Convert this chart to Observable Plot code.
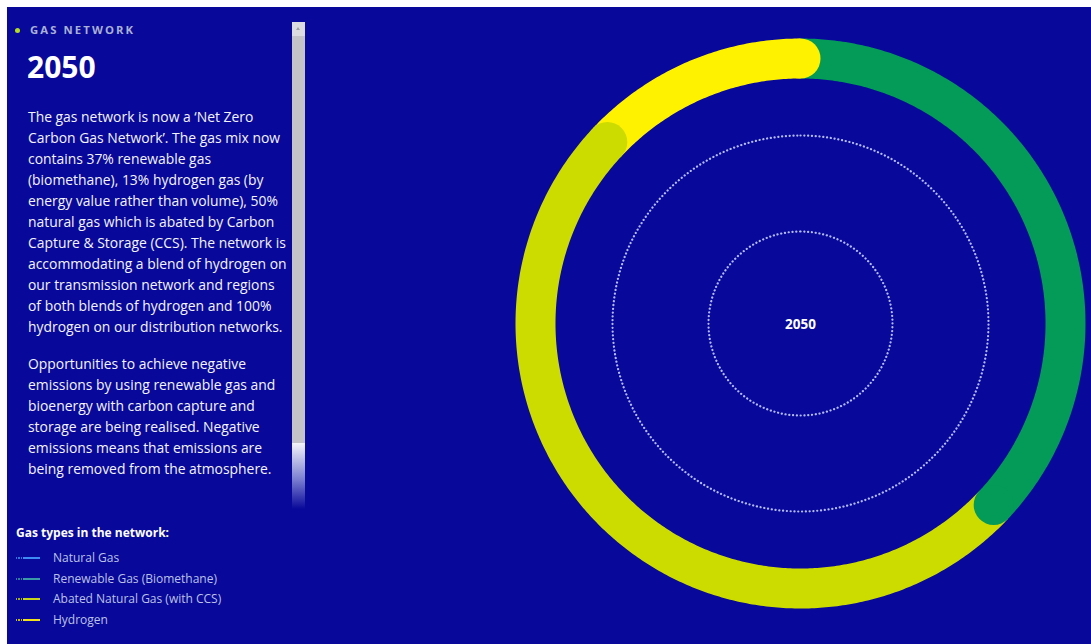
<!DOCTYPE html>
<html><head><meta charset="utf-8">
<script src="https://cdn.jsdelivr.net/npm/d3@7"></script>
<script src="https://cdn.jsdelivr.net/npm/@observablehq/plot@0.6"></script>
<style>
html,body{margin:0;padding:0;background:#fff;font-family:"Open Sans",sans-serif;}
#frame{position:absolute;left:7px;top:7px;width:1084px;height:637px;background:#08089a;overflow:hidden;}
#bullet{position:absolute;left:8px;top:21px;width:5px;height:5px;border-radius:50%;background:#b4dc1e;}
#kicker{position:absolute;left:23px;top:16px;font-size:11.3px;line-height:14px;font-weight:700;letter-spacing:2.1px;color:#aab2d4;}
#heading{position:absolute;left:20px;top:42px;font-size:30px;line-height:36px;font-weight:700;color:#fff;}
.para{position:absolute;left:21px;font-size:13.9px;line-height:21px;color:#f4f4f8;white-space:nowrap;}
#scroll{position:absolute;left:285px;top:15px;width:13px;height:421px;background:#c4c4c8;}
#scrollTop{position:absolute;left:0;top:0;width:13px;height:14px;background:#dcdce0;}
#scrollTop:after{content:"";position:absolute;left:4px;top:5px;border-left:2.5px solid transparent;border-right:2.5px solid transparent;border-bottom:3px solid #a0a0a8;}
#fade{position:absolute;left:285px;top:436px;width:13px;height:66px;background:linear-gradient(#f4f4fa,rgba(200,205,245,0.6) 55%,rgba(8,8,154,0));}
#legendTitle{position:absolute;left:9px;top:518px;font-size:12px;line-height:16px;font-weight:700;color:#fff;}
.item{position:absolute;left:9px;height:16px;width:260px;}
.sw{position:absolute;top:7px;height:2px;}
.lab{position:absolute;left:37px;top:0;font-size:12px;line-height:16px;color:#bcc2e4;white-space:nowrap;}
#chart{position:absolute;left:503px;top:0px;}
</style></head><body>
<div id="frame">
  <div id="bullet"></div>
  <div id="kicker">GAS NETWORK</div>
  <div id="heading"></div>
  <div id="p1" class="para" style="top:99px"></div>
  <div id="p2" class="para" style="top:346px"></div>
  <div id="scroll"><div id="scrollTop"></div></div>
  <div id="fade"></div>
  <div id="legendTitle">Gas types in the network:</div>
  <div id="legend"></div>
  <div id="chart"></div>
</div>
<script>
// ---- data ----
const year = "2050";
const ringTypes = ["Renewable Gas (Biomethane)", "Abated Natural Gas (with CCS)", "Hydrogen"];
const ringShares = [37, 50, 13];
const ringColors = ["#049a58", "#cddc00", "#fff200"];
const legendNames = ["Natural Gas", "Renewable Gas (Biomethane)", "Abated Natural Gas (with CCS)", "Hydrogen"];
const legendColors = ["#3d8cf5", "#3a9aa6", "#c6d41a", "#f2e21c"];
const para1 = [
  "The gas network is now a \u2018Net Zero",
  "Carbon Gas Network\u2019. The gas mix now",
  "contains 37% renewable gas",
  "(biomethane), 13% hydrogen gas (by",
  "energy value rather than volume), 50%",
  "natural gas which is abated by Carbon",
  "Capture & Storage (CCS). The network is",
  "accommodating a blend of hydrogen on",
  "our transmission network and regions",
  "of both blends of hydrogen and 100%",
  "hydrogen on our distribution networks."
];
const para2 = [
  "Opportunities to achieve negative",
  "emissions by using renewable gas and",
  "bioenergy with carbon capture and",
  "storage are being realised. Negative",
  "emissions means that emissions are",
  "being removed from the atmosphere."
];

// ---- text panel ----
document.getElementById("heading").textContent = year;
document.getElementById("p1").innerHTML = para1.map(s => s.replace(/&/g,"&amp;")).join("<br>");
document.getElementById("p2").innerHTML = para2.join("<br>");
const legend = document.getElementById("legend");
legendNames.forEach((name, i) => {
  const it = document.createElement("div");
  it.className = "item";
  it.style.top = (543 + i * 20.6) + "px";
  it.innerHTML = `<div class="sw" style="left:0;width:6px;background:repeating-linear-gradient(90deg,${legendColors[i]} 0 1px,transparent 1px 2.5px);opacity:.8"></div>` +
    `<div class="sw" style="left:7px;width:17px;background:${legendColors[i]}"></div>` +
    `<div class="lab">${name}</div>`;
  legend.appendChild(it);
});

// ---- ring geometry from data ----
const W = 580, H = 632;
const ringR = 265, ringW = 40;
const dotRadii = [188, 92];
const arcPts = [], capPts = [];
let cum = 0;
ringTypes.forEach((t, i) => {
  const a0 = cum / 100 * 2 * Math.PI;
  cum += ringShares[i];
  const a1 = cum / 100 * 2 * Math.PI;
  const n = Math.max(2, Math.ceil((a1 - a0) / 0.01));
  for (let k = 0; k <= n; k++) {
    const a = a0 + (a1 - a0) * k / n;
    arcPts.push({type: t, x: ringR * Math.sin(a), y: -ringR * Math.cos(a)});
  }
  capPts.push({type: t, x: ringR * Math.sin(a1), y: -ringR * Math.cos(a1)});
});
const circlePts = [];
dotRadii.forEach((r, j) => {
  const n = 720;
  for (let k = 0; k <= n; k++) {
    const a = 2 * Math.PI * k / n;
    circlePts.push({ring: j, x: r * Math.sin(a), y: -r * Math.cos(a)});
  }
});

const chart = Plot.plot({
  width: W, height: H,
  margin: 0,
  style: {background: "transparent", fontFamily: "Open Sans, sans-serif"},
  x: {domain: [-W / 2, W / 2], axis: null},
  y: {domain: [H / 2, -H / 2], axis: null},
  color: {domain: ringTypes, range: ringColors},
  marks: [
    Plot.line(circlePts, {x: "x", y: "y", z: "ring", stroke: "#c8d0ff", strokeOpacity: 0.9, strokeWidth: 2.2, strokeDasharray: "0.1 3.7", strokeLinecap: "round"}),
    Plot.line(arcPts, {x: "x", y: "y", z: "type", stroke: "type", strokeWidth: ringW, strokeLinecap: "butt", curve: "linear"}),
    Plot.dot(capPts, {x: "x", y: "y", r: ringW / 2, fill: "type", stroke: null}),
    Plot.text([year], {text: d => d, frameAnchor: "middle", dy: 1, fill: "white", fontWeight: "bold", fontSize: 13.5})
  ]
});
document.getElementById("chart").appendChild(chart);
</script>
</body></html>
